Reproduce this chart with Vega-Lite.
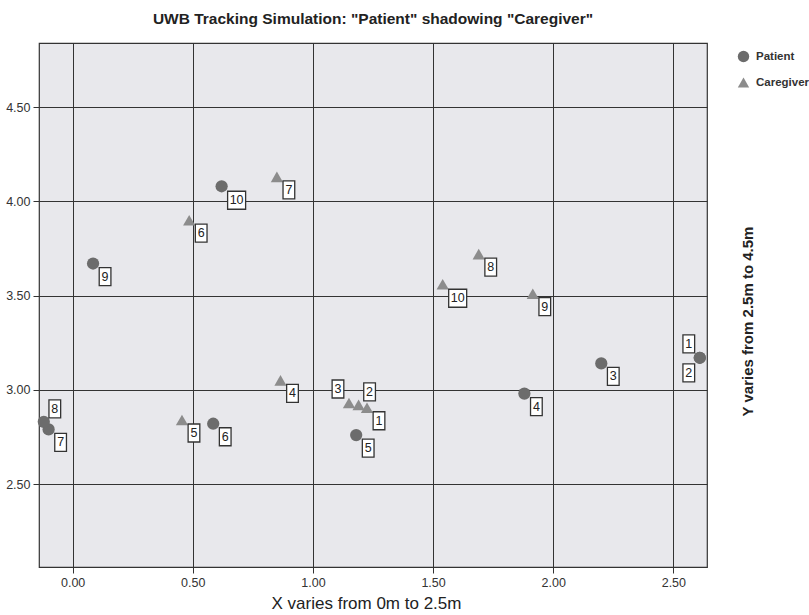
{
  "$schema": "https://vega.github.io/schema/vega-lite/v6.json",
  "width": 668,
  "height": 524,
  "autosize": "none",
  "padding": {"left": 39, "top": 43, "right": 102, "bottom": 48},
  "background": "white",
  "title": {
    "text": "UWB Tracking Simulation: \"Patient\" shadowing \"Caregiver\"",
    "font": "Liberation Sans",
    "fontSize": 15.5,
    "fontWeight": "bold",
    "color": "#222222",
    "anchor": "middle",
    "offset": 16
  },
  "config": {
    "view": {"fill": "#e8e8ec", "stroke": "#333333", "strokeWidth": 1.2},
    "axis": {
      "grid": true,
      "gridColor": "#333333",
      "gridOpacity": 1,
      "gridWidth": 1,
      "domain": false,
      "tickColor": "#333333",
      "tickSize": 6,
      "labelFont": "Liberation Sans",
      "labelFontSize": 12.5,
      "labelColor": "#333333",
      "titleFont": "Liberation Sans",
      "titleColor": "#222222"
    },
    "legend": {
      "orient": "none",
      "legendX": 698,
      "legendY": 7,
      "labelFont": "Liberation Sans",
      "labelFontSize": 11.5,
      "labelFontWeight": "bold",
      "labelColor": "#333333",
      "symbolSize": 130,
      "symbolOpacity": 1,
      "rowPadding": 8,
      "labelOffset": 6
    }
  },
  "data": {
    "values": [
      {"series": "Patient", "id": 1, "x": 2.61, "y": 3.17},
      {"series": "Patient", "id": 2, "x": 2.61, "y": 3.17},
      {"series": "Patient", "id": 3, "x": 2.20, "y": 3.14},
      {"series": "Patient", "id": 4, "x": 1.88, "y": 2.98},
      {"series": "Patient", "id": 5, "x": 1.18, "y": 2.76},
      {"series": "Patient", "id": 6, "x": 0.585, "y": 2.82},
      {"series": "Patient", "id": 7, "x": -0.10, "y": 2.79},
      {"series": "Patient", "id": 8, "x": -0.12, "y": 2.83},
      {"series": "Patient", "id": 9, "x": 0.085, "y": 3.67},
      {"series": "Patient", "id": 10, "x": 0.62, "y": 4.08},
      {"series": "Caregiver", "id": 1, "x": 1.225, "y": 2.905},
      {"series": "Caregiver", "id": 2, "x": 1.19, "y": 2.92},
      {"series": "Caregiver", "id": 3, "x": 1.15, "y": 2.93},
      {"series": "Caregiver", "id": 4, "x": 0.865, "y": 3.05},
      {"series": "Caregiver", "id": 5, "x": 0.455, "y": 2.84},
      {"series": "Caregiver", "id": 6, "x": 0.485, "y": 3.90},
      {"series": "Caregiver", "id": 7, "x": 0.85, "y": 4.13},
      {"series": "Caregiver", "id": 8, "x": 1.69, "y": 3.72},
      {"series": "Caregiver", "id": 9, "x": 1.915, "y": 3.51},
      {"series": "Caregiver", "id": 10, "x": 1.54, "y": 3.56}
    ]
  },
  "encoding": {
    "x": {
      "field": "x",
      "type": "quantitative",
      "scale": {"domain": [-0.14, 2.64], "nice": false, "zero": false},
      "axis": {
        "values": [0, 0.5, 1, 1.5, 2, 2.5],
        "format": ".2f",
        "labelPadding": 3,
        "title": "X varies from 0m to 2.5m",
        "titleFontSize": 17,
        "titleFontWeight": "normal",
        "titleX": 327,
        "titleY": 36,
        "titleBaseline": "middle"
      }
    },
    "y": {
      "field": "y",
      "type": "quantitative",
      "scale": {"domain": [2.06, 4.84], "nice": false, "zero": false},
      "axis": {
        "values": [2.5, 3, 3.5, 4, 4.5],
        "format": ".2f",
        "labelPadding": 3,
        "title": "Y varies from 2.5m to 4.5m",
        "titleFontSize": 15,
        "titleFontWeight": "bold",
        "titleAngle": 270,
        "titleX": 708,
        "titleY": 278,
        "titleBaseline": "middle",
        "titleAlign": "center"
      }
    }
  },
  "layer": [
    {
      "mark": {"type": "point", "filled": true, "opacity": 1, "size": 150},
      "encoding": {
        "shape": {
          "field": "series",
          "type": "nominal",
          "scale": {"domain": ["Patient", "Caregiver"], "range": ["circle", "triangle-up"]},
          "legend": {"title": null}
        },
        "color": {
          "field": "series",
          "type": "nominal",
          "scale": {"domain": ["Patient", "Caregiver"], "range": ["#6c6c6c", "#8c8c8c"]},
          "legend": {"title": null}
        }
      }
    },
    {
      "transform": [{"filter": "datum.id < 10 && !((datum.series == 'Patient' && (datum.id == 1 || datum.id == 2 || datum.id == 8)) || (datum.series == 'Caregiver' && (datum.id == 2 || datum.id == 3)))"}],
      "layer": [
        {
          "mark": {"type": "point", "shape": "M-0.65,-1L0.65,-1L0.65,1L-0.65,1Z", "size": 324, "filled": false, "fill": "white", "fillOpacity": 1, "stroke": "#333333", "strokeWidth": 1.3, "opacity": 1, "xOffset": 12, "yOffset": 13},
          "encoding": {}
        },
        {
          "mark": {"type": "text", "font": "Liberation Sans", "fontSize": 12.5, "color": "#222222", "dx": 12, "dy": 13, "baseline": "middle", "align": "center"},
          "encoding": {"text": {"field": "id", "type": "nominal"}}
        }
      ]
    },
    {
      "transform": [{"filter": "datum.id == 10"}],
      "layer": [
        {
          "mark": {"type": "point", "shape": "M-1,-1L1,-1L1,1L-1,1Z", "size": 324, "filled": false, "fill": "white", "fillOpacity": 1, "stroke": "#333333", "strokeWidth": 1.3, "opacity": 1, "xOffset": 15, "yOffset": 14},
          "encoding": {}
        },
        {
          "mark": {"type": "text", "font": "Liberation Sans", "fontSize": 12.5, "color": "#222222", "dx": 15, "dy": 14, "baseline": "middle", "align": "center"},
          "encoding": {"text": {"field": "id", "type": "nominal"}}
        }
      ]
    },
    {
      "transform": [{"filter": "(datum.series == 'Patient' && datum.id == 1) || (datum.series == 'Caregiver' && datum.id == 3)"}],
      "layer": [
        {
          "mark": {"type": "point", "shape": "M-0.65,-1L0.65,-1L0.65,1L-0.65,1Z", "size": 324, "filled": false, "fill": "white", "fillOpacity": 1, "stroke": "#333333", "strokeWidth": 1.3, "opacity": 1, "xOffset": -11, "yOffset": -14},
          "encoding": {}
        },
        {
          "mark": {"type": "text", "font": "Liberation Sans", "fontSize": 12.5, "color": "#222222", "dx": -11, "dy": -14, "baseline": "middle", "align": "center"},
          "encoding": {"text": {"field": "id", "type": "nominal"}}
        }
      ]
    },
    {
      "transform": [{"filter": "datum.series == 'Patient' && datum.id == 2"}],
      "layer": [
        {
          "mark": {"type": "point", "shape": "M-0.65,-1L0.65,-1L0.65,1L-0.65,1Z", "size": 324, "filled": false, "fill": "white", "fillOpacity": 1, "stroke": "#333333", "strokeWidth": 1.3, "opacity": 1, "xOffset": -11, "yOffset": 15},
          "encoding": {}
        },
        {
          "mark": {"type": "text", "font": "Liberation Sans", "fontSize": 12.5, "color": "#222222", "dx": -11, "dy": 15, "baseline": "middle", "align": "center"},
          "encoding": {"text": {"field": "id", "type": "nominal"}}
        }
      ]
    },
    {
      "transform": [{"filter": "(datum.series == 'Patient' && datum.id == 8) || (datum.series == 'Caregiver' && datum.id == 2)"}],
      "layer": [
        {
          "mark": {"type": "point", "shape": "M-0.65,-1L0.65,-1L0.65,1L-0.65,1Z", "size": 324, "filled": false, "fill": "white", "fillOpacity": 1, "stroke": "#333333", "strokeWidth": 1.3, "opacity": 1, "xOffset": 11, "yOffset": -13},
          "encoding": {}
        },
        {
          "mark": {"type": "text", "font": "Liberation Sans", "fontSize": 12.5, "color": "#222222", "dx": 11, "dy": -13, "baseline": "middle", "align": "center"},
          "encoding": {"text": {"field": "id", "type": "nominal"}}
        }
      ]
    }
  ]
}
